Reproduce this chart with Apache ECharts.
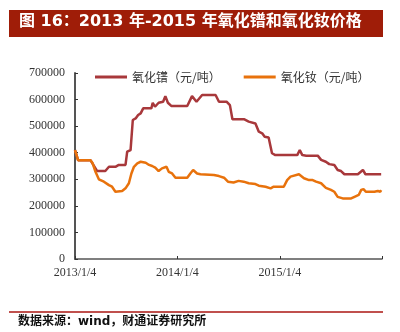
<!DOCTYPE html>
<html>
<head>
<meta charset="utf-8">
<style>
  html, body { margin: 0; padding: 0; background: #fff; }
  #chart { width: 400px; height: 332px; }
</style>
<script src="https://cdn.jsdelivr.net/npm/echarts@6/dist/echarts.min.js"></script>
</head>
<body>
<div id="chart"></div>
<script>
// Tick labels on the date axis
const tickLabels = ['2013/1/4', '2014/1/4', '2015/1/4'];
const seriesNames = ['氧化镨（元/吨）', '氧化钕（元/吨）'];

// Praseodymium oxide price (yuan/ton)
const prDates = [
  '2013-01-04', '2013-01-15', '2013-02-28', '2013-03-24', '2013-04-22', '2013-05-05',
  '2013-05-28', '2013-06-09', '2013-07-03', '2013-07-09', '2013-07-21', '2013-07-29',
  '2013-08-08', '2013-08-17', '2013-08-26', '2013-09-04', '2013-10-03', '2013-10-08',
  '2013-10-16', '2013-10-29', '2013-11-14', '2013-11-22', '2013-12-01', '2013-12-13',
  '2014-02-08', '2014-02-25', '2014-03-13', '2014-04-02', '2014-05-20', '2014-06-01',
  '2014-06-28', '2014-07-10', '2014-07-19', '2014-08-29', '2014-09-15', '2014-10-09',
  '2014-10-21', '2014-11-02', '2014-11-11', '2014-11-25', '2014-12-07', '2014-12-19',
  '2015-03-07', '2015-03-16', '2015-03-25', '2015-04-08', '2015-05-19', '2015-05-31',
  '2015-06-17', '2015-06-29', '2015-07-17', '2015-07-29', '2015-08-10', '2015-08-22',
  '2015-10-09', '2015-10-27', '2015-11-05', '2015-12-31'
];
const prPrices = [
  410000, 372000, 372000, 331000, 331000, 347000,
  347000, 354000, 354000, 404000, 410000, 523000,
  529000, 542000, 548000, 567000, 567000, 588000,
  573000, 588000, 592000, 613000, 588000, 576000,
  576000, 613000, 592000, 617000, 617000, 592000,
  592000, 579000, 526000, 526000, 517000, 510000,
  479000, 473000, 460000, 457000, 398000, 391000,
  391000, 410000, 391000, 389000, 389000, 373000,
  366000, 357000, 354000, 335000, 331000, 319000,
  319000, 335000, 319000, 319000
];

// Neodymium oxide price (yuan/ton)
const ndDates = [
  '2013-01-04', '2013-01-15', '2013-02-28', '2013-03-08', '2013-03-18', '2013-03-30',
  '2013-04-17', '2013-05-05', '2013-05-16', '2013-05-28', '2013-06-21', '2013-07-03',
  '2013-07-15', '2013-07-24', '2013-08-02', '2013-08-14', '2013-08-26', '2013-09-13',
  '2013-09-25', '2013-10-06', '2013-10-17', '2013-10-29', '2013-11-10', '2013-11-26',
  '2013-12-04', '2013-12-16', '2013-12-28', '2014-02-08', '2014-02-19', '2014-03-01',
  '2014-03-15', '2014-03-27', '2014-05-14', '2014-06-01', '2014-06-19', '2014-07-03',
  '2014-07-23', '2014-08-10', '2014-08-28', '2014-09-15', '2014-10-09', '2014-10-21',
  '2014-11-14', '2014-12-02', '2014-12-13', '2015-01-18', '2015-01-30', '2015-02-11',
  '2015-03-13', '2015-03-31', '2015-04-18', '2015-05-01', '2015-05-13', '2015-05-31',
  '2015-06-17', '2015-07-05', '2015-07-17', '2015-07-29', '2015-08-16', '2015-09-15',
  '2015-09-27', '2015-10-12', '2015-10-21', '2015-10-29', '2015-11-07', '2015-12-07',
  '2015-12-19', '2015-12-28', '2015-12-31'
];
const ndPrices = [
  410000, 372000, 372000, 360000, 328000, 300000,
  291000, 278000, 272000, 253000, 256000, 266000,
  285000, 322000, 347000, 360000, 366000, 362000,
  354000, 350000, 344000, 331000, 341000, 347000,
  328000, 322000, 306000, 306000, 322000, 335000,
  322000, 319000, 316000, 312000, 306000, 291000,
  288000, 294000, 291000, 285000, 282000, 276000,
  272000, 266000, 272000, 272000, 297000, 310000,
  319000, 304000, 297000, 297000, 291000, 285000,
  268000, 260000, 253000, 234000, 228000, 228000,
  234000, 241000, 260000, 263000, 253000, 253000,
  256000, 253000, 259000
];

const DAY = 86400000;
const origin = Date.parse('2013-01-04T00:00:00Z');
const dayOf = s => Math.round((Date.parse(s + 'T00:00:00Z') - origin) / DAY);
const pairs = (dates, vals) => dates.map((d, i) => [dayOf(d), vals[i]]);

const serif = '"Liberation Serif", "DejaVu Serif", serif';
const cjk = '"Noto Sans CJK SC", sans-serif';
const mixed = '"DejaVu Sans", "Noto Sans CJK SC", sans-serif';

const chart = echarts.init(document.getElementById('chart'), null, { renderer: 'canvas' });
chart.setOption({
  animation: false,
  backgroundColor: '#ffffff',
  graphic: [
    { type: 'rect', left: 9, top: 10, shape: { width: 374, height: 27 },
      style: { fill: '#9f1d08' } },
    { type: 'text', left: 19, top: 14,
      style: { text: '图 16：2013 年-2015 年氧化镨和氧化钕价格', fill: '#ffffff',
               font: 'bold 16px ' + mixed } },
    { type: 'rect', left: 9, top: 311, shape: { width: 374, height: 2 },
      style: { fill: '#c0504d' } },
    { type: 'text', left: 18, top: 316,
      style: { text: '数据来源：wind，财通证券研究所', fill: '#111111',
               font: 'bold 12px ' + mixed } }
  ],
  legend: {
    left: 90, top: 66,
    icon: 'rect', itemWidth: 32, itemHeight: 3, itemGap: 23,
    textStyle: { fontFamily: cjk, fontSize: 12, color: '#333' },
    data: seriesNames
  },
  grid: { left: 75, right: 18, top: 73, bottom: 73 },
  xAxis: {
    type: 'value', min: 0, max: 1094, interval: 365,
    axisLine: { lineStyle: { color: '#555', width: 1.5 } },
    axisTick: { inside: true, length: 3, lineStyle: { color: '#333' } },
    splitLine: { show: false },
    axisLabel: {
      fontFamily: serif, fontSize: 12, color: '#333', margin: 8,
      formatter: v => tickLabels[Math.round(v / 365)] || ''
    }
  },
  yAxis: {
    type: 'value', min: 0, max: 700000, interval: 100000,
    axisLine: { show: true, lineStyle: { color: '#555', width: 2 } },
    axisTick: { show: true, inside: true, length: 3, lineStyle: { color: '#333' } },
    splitLine: { show: false },
    axisLabel: { fontFamily: serif, fontSize: 12, color: '#333', margin: 10,
                 formatter: v => String(v) }
  },
  series: [
    { name: seriesNames[0], type: 'line', showSymbol: false, symbol: 'none',
      data: pairs(prDates, prPrices),
      lineStyle: { color: '#a8383b', width: 2.5 }, itemStyle: { color: '#a8383b' } },
    { name: seriesNames[1], type: 'line', showSymbol: false, symbol: 'none',
      data: pairs(ndDates, ndPrices),
      lineStyle: { color: '#e8720c', width: 2.5 }, itemStyle: { color: '#e8720c' } }
  ]
});
</script>
</body>
</html>
